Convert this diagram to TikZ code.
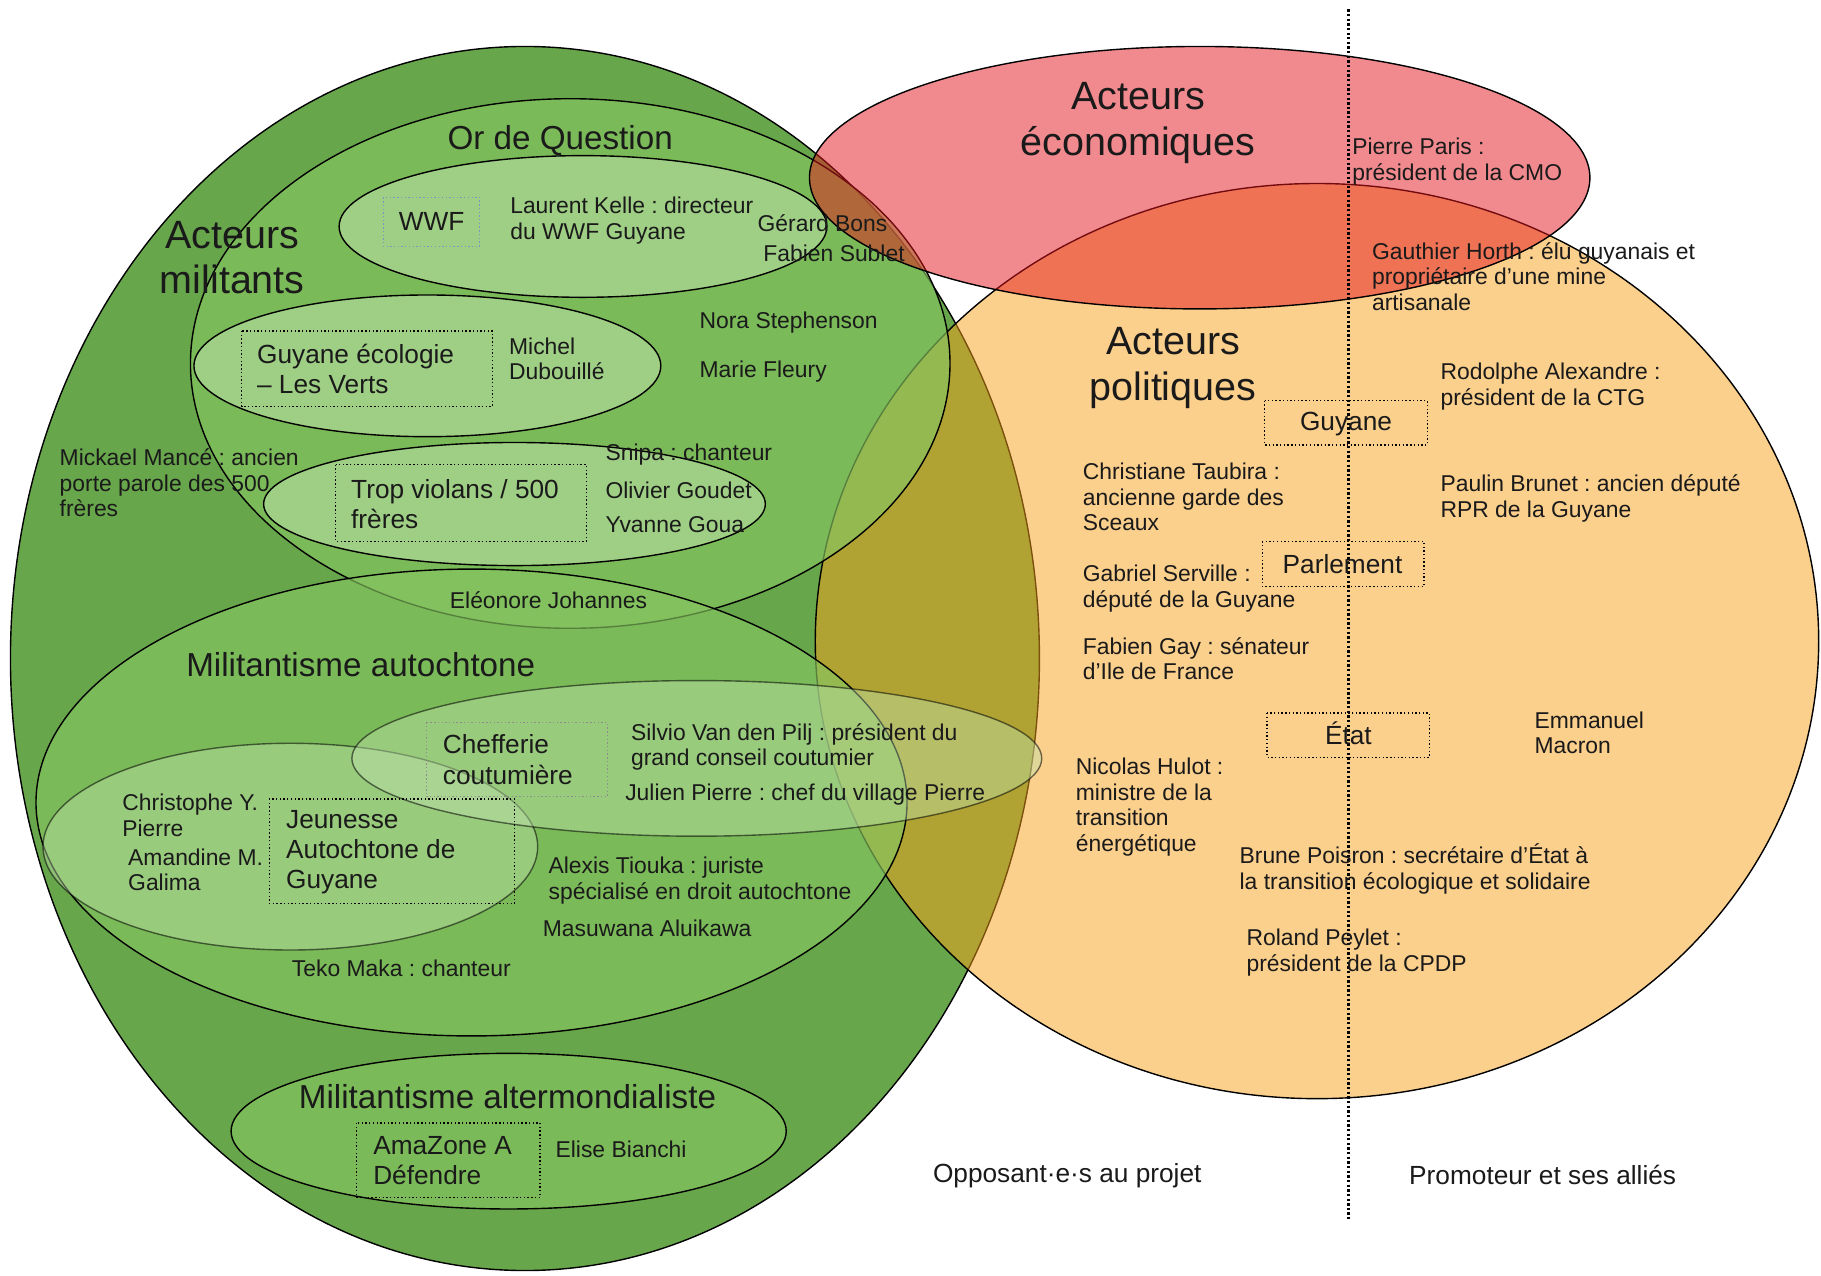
\documentclass[tikz,border=0pt]{standalone}
\usepackage{fontspec}
\setmainfont{Liberation Sans}
\frenchspacing
\definecolor{bigG}{RGB}{104,166,76}
\definecolor{oran}{RGB}{249,161,27}
\definecolor{redE}{RGB}{229,23,31}
\definecolor{midG}{RGB}{134,198,96}
\definecolor{lightG}{RGB}{190,225,170}
\definecolor{txt}{RGB}{26,26,26}
\definecolor{boxblue}{RGB}{120,150,190}
\begin{document}
\begin{tikzpicture}[x=0.5pt,y=-0.5pt,
  outl/.style={draw=black, line width=0.6pt},
  bigell/.style={outl, fill=bigG},
  orell/.style={outl, fill=oran, fill opacity=0.5},
  redell/.style={outl, fill=redE, fill opacity=0.5},
  midell/.style={outl, fill=midG, fill opacity=0.65},
  lightell/.style={outl, fill=lightG, fill opacity=0.55},
  paleell/.style={draw=black, draw opacity=0.55, line width=0.6pt, fill=lightG, fill opacity=0.45},
  dbox/.style={draw=black, line width=0.6pt, densely dotted},
  small/.style={font=\fontsize{9.85}{11}\selectfont, align=left, inner sep=0pt, anchor=west, text=txt, yshift=-1pt},
  mid/.style={font=\fontsize{11.3}{13}\selectfont, align=left, inner sep=0pt, anchor=west, text=txt},
  head/.style={font=\fontsize{14.3}{17}\selectfont, inner sep=0pt, anchor=west, text=txt},
  big/.style={font=\fontsize{17}{19.5}\selectfont, align=center, inner sep=0pt, text=txt},
  vline/.style={draw=black, line width=1.1pt, dash pattern=on 1pt off 1pt}
]
\useasboundingbox (0,0) rectangle (1568,1098);
\fill[white] (0,0) rectangle (1568,1098);

% ---- ellipses ----
\path[bigell] (452,567) ellipse [x radius=443, y radius=527];
\path[orell] (1134,552) ellipse [x radius=432, y radius=394];
\path[midell] (491,313) ellipse [x radius=327, y radius=228];
\path[lightell] (502,195) ellipse [x radius=210, y radius=61];
\path[lightell] (368,315) ellipse [x radius=201, y radius=61];
\path[lightell] (443,434) ellipse [x radius=216, y radius=53];
\path[midell] (406,691) ellipse [x radius=375, y radius=201];
\path[paleell] (250,729) ellipse [x radius=213, y radius=89];
\path[paleell] (600,653) ellipse [x radius=297, y radius=67];
\path[midell] (438,974) ellipse [x radius=239, y radius=67];
\path[redell] (1033,153) ellipse [x radius=336, y radius=113];

% ---- dotted boxes ----
\draw[dbox, draw=boxblue] (330,170) rectangle (413,212);
\draw[dbox] (208,285) rectangle (424,350);
\draw[dbox] (289,400) rectangle (505,466);
\draw[dbox, draw=black!45] (367,622) rectangle (523,686);
\draw[dbox] (232,688) rectangle (443,778);
\draw[dbox] (307,967) rectangle (465,1031);
\draw[dbox] (1089,345) rectangle (1229,383);
\draw[dbox] (1087,466) rectangle (1226,505);
\draw[dbox] (1091,614) rectangle (1231,652);

% ---- vertical divider ----
\coordinate (vtop) at (1161,8);
\coordinate (vbot) at (1161,1050);
\draw[vline] (vtop) -- (vbot);

% ---- headings ----
\node[big] (militants) at (200,222) {Acteurs\\militants};
\node[big] (economiques) at (980,106) {Acteurs\\économiques};
\node[big] (politiques) at (1010,317) {Acteurs\\politiques};
\node[head] (ordeq) at (385,121) {Or de Question};
\node[head] (autoch) at (160,572) {Militantisme autochtone};
\node[head] (alter) at (257,944) {Militantisme altermondialiste};

% ---- box labels ----
\node[mid] (wwf) at (343,191) {WWF};
\node[mid] (geco) at (221,318) {Guyane écologie\\– Les Verts};
\node[mid] (trop) at (302,434) {Trop violans / 500\\frères};
\node[mid] (chef) at (381,654) {Chefferie\\coutumière};
\node[mid] (jeun) at (246,734) {Jeunesse\\Autochtone de\\Guyane};
\node[mid] (amaz) at (321,999) {AmaZone A\\Défendre};
\node[mid, anchor=center] (guy) at (1159,365) {Guyane};
\node[mid, anchor=center] (parl) at (1156,486) {Parlement};
\node[mid, anchor=center] (etat) at (1161,631) {État};

% ---- people, militants ----
\node[small] (kelle) at (439,188) {Laurent Kelle : directeur\\du WWF Guyane};
\node[small] (bons) at (652,190) {Gérard Bons};
\node[small] (sublet) at (657,216) {Fabien Sublet};
\node[small] (michel) at (438,307) {Michel\\Dubouillé};
\node[small] (nora) at (602,276) {Nora Stephenson};
\node[small] (marie) at (602,318) {Marie Fleury};
\node[small] (mance) at (51,414) {Mickael Mancé : ancien\\porte parole des 500\\frères};
\node[small] (snipa) at (521,389) {Snipa : chanteur};
\node[small] (goudet) at (521,420) {Olivier Goudet};
\node[small] (goua) at (521,450) {Yvanne Goua};
\node[small] (johannes) at (387,515) {Eléonore Johannes};
\node[small] (silvio) at (543,641) {Silvio Van den Pilj : président du\\grand conseil coutumier};
\node[small] (julien) at (538,682) {Julien Pierre : chef du village Pierre};
\node[small] (christophe) at (105,700) {Christophe Y.\\Pierre};
\node[small] (amandine) at (110,747) {Amandine M.\\Galima};
\node[small] (tiouka) at (472,756) {Alexis Tiouka : juriste\\spécialisé en droit autochtone};
\node[small] (masuwana) at (467,797) {Masuwana Aluikawa};
\node[small] (teko) at (251,832) {Teko Maka : chanteur};
\node[small] (bianchi) at (478,988) {Elise Bianchi};

% ---- people, economic / political ----
\node[small] (paris) at (1164,137) {Pierre Paris :\\président de la CMO};
\node[small] (horth) at (1181,236) {Gauthier Horth : élu guyanais et\\propriétaire d’une mine\\artisanale};
\node[small] (rodolphe) at (1240,331) {Rodolphe Alexandre :\\président de la CTG};
\node[small] (taubira) at (932,426) {Christiane Taubira :\\ancienne garde des\\Sceaux};
\node[small] (brunet) at (1240,427) {Paulin Brunet : ancien député\\RPR de la Guyane};
\node[small] (serville) at (932,505) {Gabriel Serville :\\député de la Guyane};
\node[small] (gay) at (932,565) {Fabien Gay : sénateur\\d’Ile de France};
\node[small] (macron) at (1321,629) {Emmanuel\\Macron};
\node[small] (hulot) at (926,693) {Nicolas Hulot :\\ministre de la\\transition\\énergétique};
\node[small] (poisron) at (1067,746) {Brune Poisron : secrétaire d’État à\\la transition écologique et solidaire};
\node[small] (peylet) at (1073,818) {Roland Peylet :\\président de la CPDP};

% ---- bottom captions ----
\node[mid] (opp) at (803,1012) {Opposant·e·s au projet};
\node[mid] (promo) at (1213,1012) {Promoteur et ses alliés};
\end{tikzpicture}
\end{document}
